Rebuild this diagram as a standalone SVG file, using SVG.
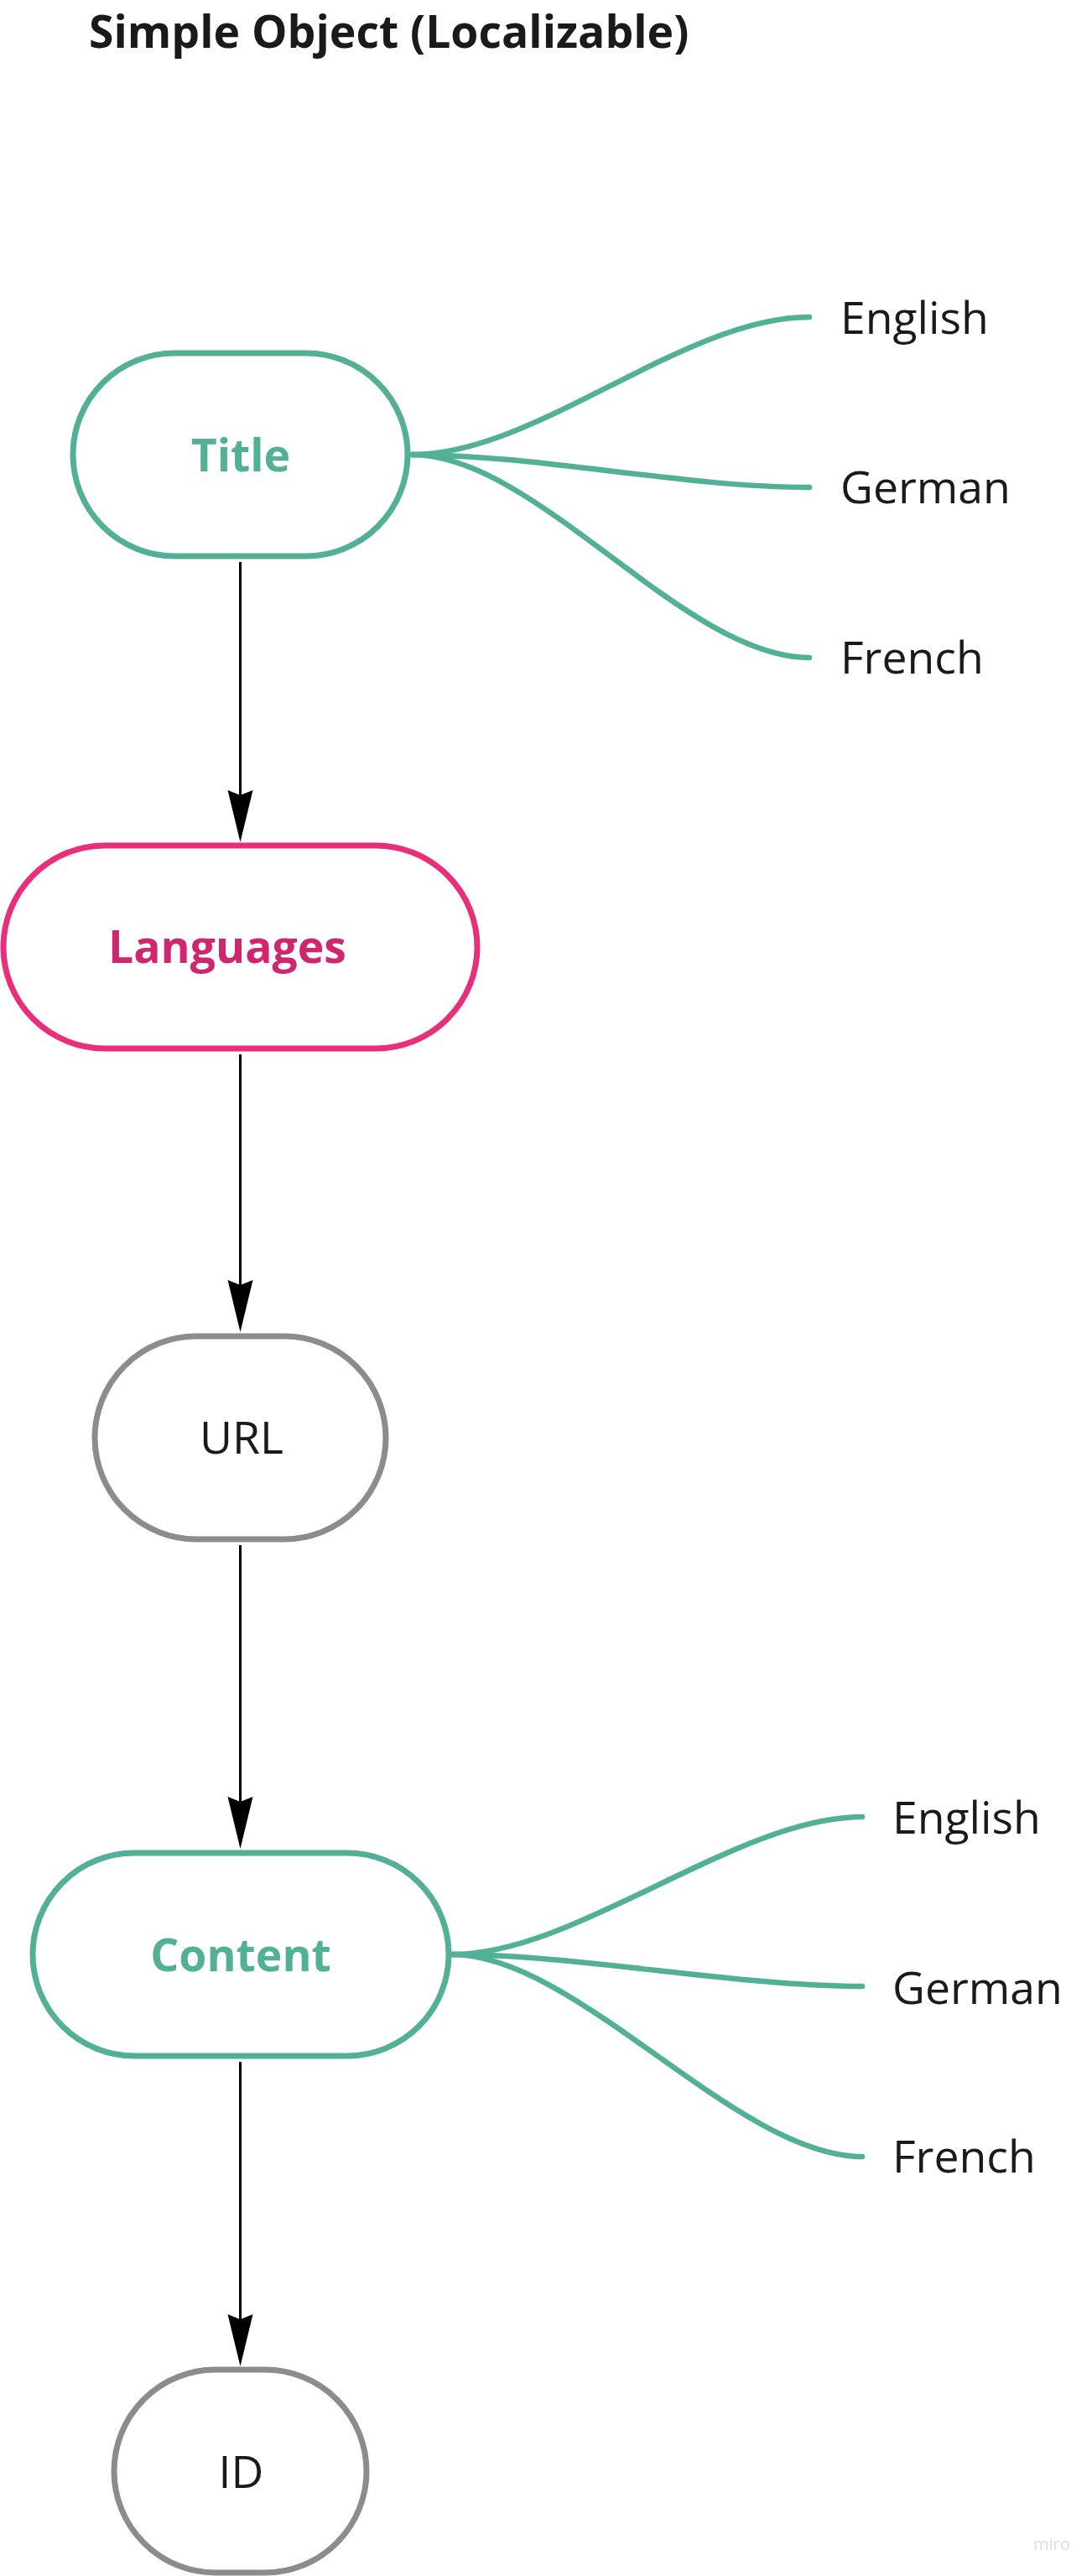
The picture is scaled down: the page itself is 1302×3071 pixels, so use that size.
<svg xmlns="http://www.w3.org/2000/svg" width="1302" height="3071" viewBox="0 0 1302 3071">
<style>
  text { font-family: "Open Sans", "Noto Sans", "Liberation Sans", sans-serif; }
  .node { fill: #ffffff; stroke-width: 7; }
  .green { stroke: #52b096; }
  .pink { stroke: #e92f7b; }
  .gray { stroke: #8c8c8c; }
  .lbl { font-size: 53.5px; text-anchor: middle; }
  .bold { font-weight: 700; }
  .gtxt { fill: #52b096; }
  .ptxt { fill: #cf266d; }
  .dtxt { fill: #1a1a1a; }
  .branch { fill: none; stroke: #52b096; stroke-width: 6.5; stroke-linecap: round; }
  .lang { font-size: 53.5px; fill: #1a1a1a; }
  .arrow { stroke: #000000; stroke-width: 3; fill: none; }
</style>
<defs>
  <marker id="ah" markerUnits="userSpaceOnUse" markerWidth="64" markerHeight="32" viewBox="0 -16 64 32" refX="10" refY="0" orient="auto">
    <path d="M0,-15 L62,0 L0,15 L6,0 Z" fill="#000000"/>
  </marker>
</defs>
<rect x="0" y="0" width="1302" height="3071" fill="#ffffff"/>

<text id="heading" x="106" y="57" font-size="53.5" font-weight="700" fill="#1a1a1a">Simple Object (Localizable)</text>

<g id="connectors">
  <line class="arrow" x1="286.5" y1="670" x2="286.5" y2="952" marker-end="url(#ah)"/>
  <line class="arrow" x1="286.5" y1="1257" x2="286.5" y2="1536" marker-end="url(#ah)"/>
  <line class="arrow" x1="286.5" y1="1842" x2="286.5" y2="2152" marker-end="url(#ah)"/>
  <line class="arrow" x1="286.5" y1="2458" x2="286.5" y2="2769" marker-end="url(#ah)"/>
  <path class="branch" d="M491,542 C640,542 815,378 965,378"/>
  <path class="branch" d="M491,542 C640,542 815,581 965,581"/>
  <path class="branch" d="M491,542 C640,542 815,784 965,784"/>
  <path class="branch" d="M539,2330 C688,2330 878,2166 1028,2166"/>
  <path class="branch" d="M539,2330 C688,2330 878,2368 1028,2368"/>
  <path class="branch" d="M539,2330 C688,2330 878,2571 1028,2571"/>
</g>

<g id="node-title">
  <rect class="node green" x="87" y="421" width="399" height="242" rx="121" ry="121"/>
  <text class="lbl bold gtxt" x="287" y="562">Title</text>
</g>
<g id="title-english"><text class="lang" x="1002" y="398">English</text></g>
<g id="title-german"><text class="lang" x="1002" y="600">German</text></g>
<g id="title-french"><text class="lang" x="1002" y="803">French</text></g>

<g id="node-languages">
  <rect class="node pink" x="4" y="1008" width="565" height="242" rx="121" ry="121"/>
  <text class="lbl bold ptxt" x="271" y="1148">Languages</text>
</g>

<g id="node-url">
  <rect class="node gray" x="113" y="1593" width="347" height="242" rx="121" ry="121"/>
  <text class="lbl dtxt" x="288" y="1733">URL</text>
</g>

<g id="node-content">
  <rect class="node green" x="39" y="2209" width="496" height="242" rx="121" ry="121"/>
  <text class="lbl bold gtxt" x="287" y="2350">Content</text>
</g>
<g id="content-english"><text class="lang" x="1064" y="2186">English</text></g>
<g id="content-german"><text class="lang" x="1064" y="2389">German</text></g>
<g id="content-french"><text class="lang" x="1064" y="2590">French</text></g>

<g id="node-id">
  <rect class="node gray" x="136" y="2825" width="301" height="242" rx="121" ry="121"/>
  <text class="lbl dtxt" x="287.5" y="2966">ID</text>
</g>

<text id="watermark" x="1232" y="3040" font-size="20" fill="#dcdce6">miro</text>
</svg>
